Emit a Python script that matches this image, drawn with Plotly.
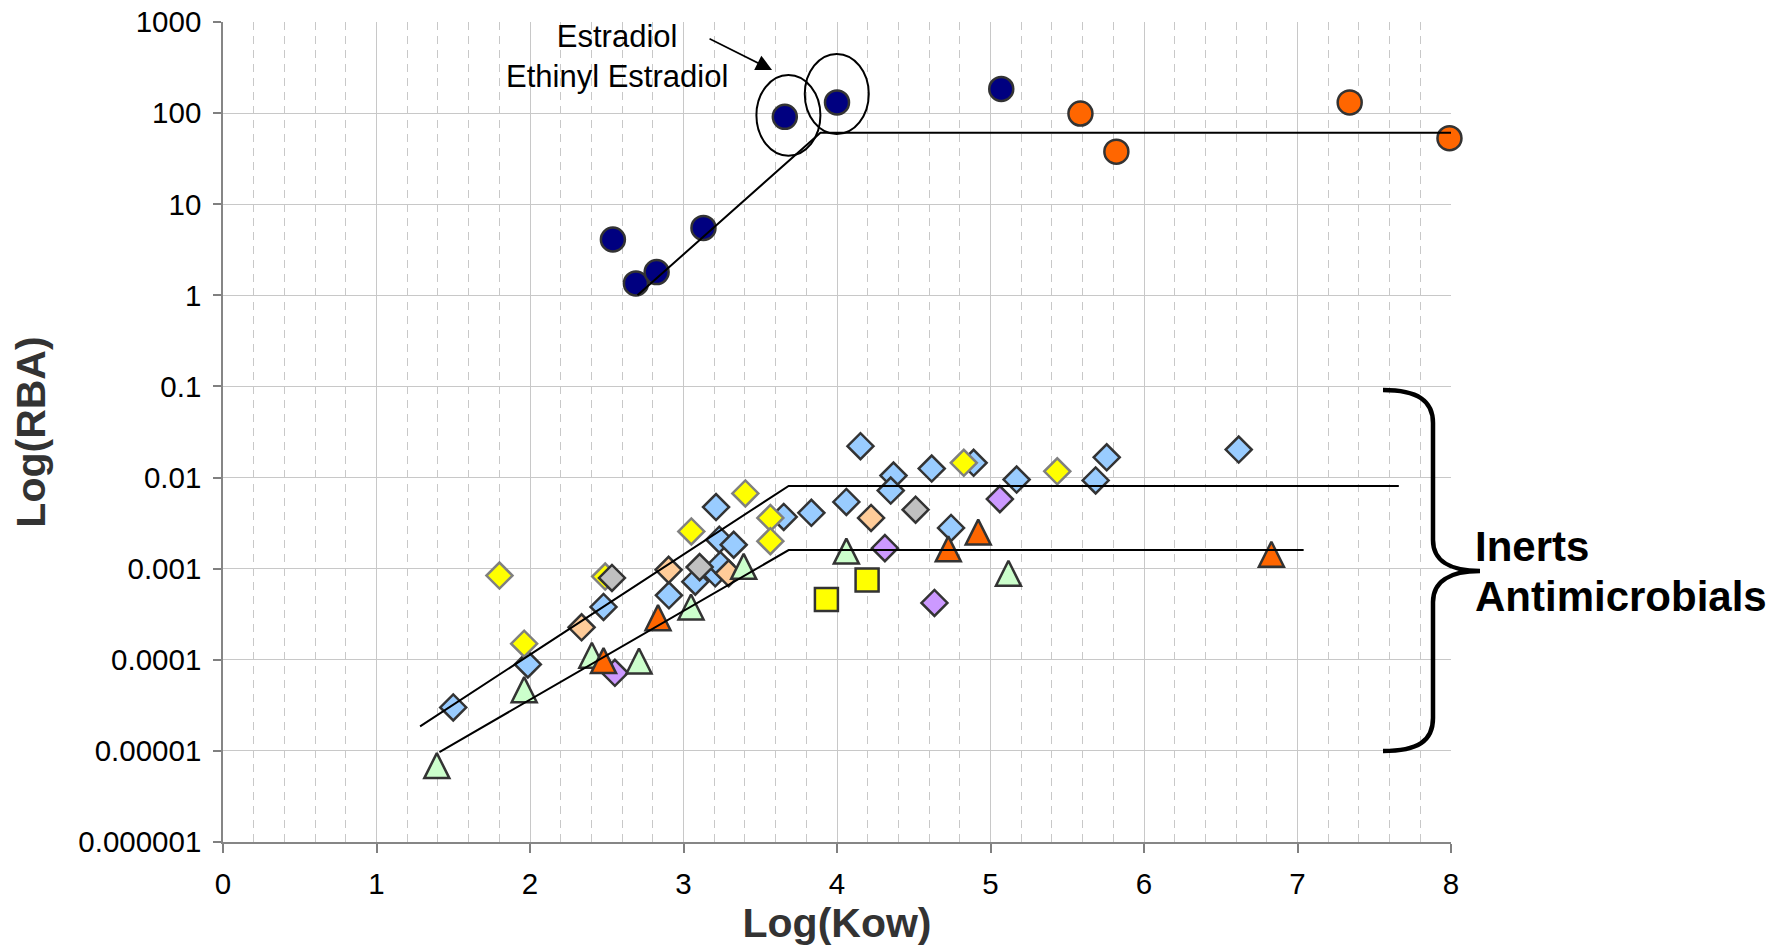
import plotly.graph_objects as go

# ---- data: Log(Kow) vs relative binding affinity ----
steroid_x = [2.54, 2.69, 2.825, 3.13, 3.66, 4.00, 5.07]
steroid_y = [4.1, 1.35, 1.8, 5.5, 91, 131, 184]

phenol_x = [5.586, 5.82, 7.34, 7.99]
phenol_y = [99, 37.7, 131, 53]

blue_x = [1.50, 1.986, 2.479, 2.905, 3.077, 3.207, 3.24, 3.212, 3.233, 3.327, 3.653,
          3.833, 4.061, 4.153, 4.368, 4.35, 4.617, 4.743, 4.89, 5.17, 5.685, 5.757, 6.617]
blue_y = [3.0e-5, 8.9e-5, 3.8e-4, 5.1e-4, 7.2e-4, 8.9e-4, 1.1e-3, 4.75e-3, 2.08e-3, 1.83e-3, 3.7e-3,
          4.1e-3, 5.4e-3, 2.21e-2, 1.05e-2, 7.2e-3, 1.256e-2, 2.8e-3, 1.45e-2, 9.5e-3, 9.3e-3, 1.67e-2, 2.03e-2]

yellow_x = [1.801, 1.962, 2.49, 3.051, 3.403, 3.566, 3.566, 4.826, 5.435]
yellow_y = [8.4e-4, 1.5e-4, 8.2e-4, 2.56e-3, 6.7e-3, 3.6e-3, 2.0e-3, 1.45e-2, 1.17e-2]

gray_x = [2.534, 3.105, 4.512]
gray_y = [7.9e-4, 1.04e-3, 4.44e-3]

peach_x = [2.336, 2.903, 3.294, 4.222]
peach_y = [2.27e-4, 9.7e-4, 8.9e-4, 3.6e-3]

purple_x = [2.553, 4.312, 4.635, 5.061]
purple_y = [7.2e-5, 1.68e-3, 4.2e-4, 5.8e-3]

green_x = [1.393, 1.962, 2.403, 2.71, 3.049, 3.392, 4.061, 5.117]
green_y = [6.9e-6, 4.7e-5, 1.12e-4, 9.7e-5, 3.8e-4, 1.06e-3, 1.56e-3, 8.9e-4]

otri_x = [2.479, 2.834, 4.725, 4.92, 6.83]
otri_y = [9.8e-5, 2.9e-4, 1.65e-3, 2.52e-3, 1.44e-3]

square_x = [3.931, 4.196]
square_y = [4.6e-4, 7.5e-4]

# piecewise trend lines
trend_top_x = [2.70, 3.892, 8.0]
trend_top_y = [1.0, 61, 61]
trend_mid_x = [1.284, 3.685, 7.66]
trend_mid_y = [1.86e-5, 0.0081, 0.0081]
trend_low_x = [1.41, 3.685, 7.04]
trend_low_y = [9.7e-6, 0.0016, 0.0016]

y_tickvals = [1e-6, 1e-5, 1e-4, 1e-3, 1e-2, 1e-1, 1, 10, 100, 1000]
y_ticktext = ["0.000001", "0.00001", "0.0001", "0.001", "0.01", "0.1", "1", "10", "100", "1000"]
x_tickvals = [0, 1, 2, 3, 4, 5, 6, 7, 8]

# ---- layout geometry (pixels) ----
W, H = 1774, 946
ML, MR, MT, MB = 223, 323, 22, 104
PW, PH = W - ML - MR, H - MT - MB


def px(xp):
    return (xp - ML) / PW


def py(yp):
    return (H - MB - yp) / PH


OUT = "#333333"
FONT = "Liberation Sans"

fig = go.Figure()


def add_markers(xs, ys, symbol, fill, size, line_color=OUT, extra=None):
    marker = dict(symbol=symbol, size=size, color=fill,
                  line=dict(color=line_color, width=2.5))
    if extra:
        marker.update(extra)
    fig.add_trace(go.Scatter(x=xs, y=ys, mode="markers", marker=marker, cliponaxis=False,
                             showlegend=False, hoverinfo="x+y"))


# upward triangle with equal width/height, centred on its point
TRI = dict(angle=180, standoff=12.5)

add_markers(blue_x, blue_y, "diamond", "#99CCFF", 20)
add_markers(yellow_x, yellow_y, "diamond", "#FFFF00", 20, line_color="#808080")
add_markers(gray_x, gray_y, "diamond", "#C0C0C0", 20)
add_markers(peach_x, peach_y, "diamond", "#FFCC99", 20)
add_markers(purple_x, purple_y, "diamond", "#CC99FF", 20)
add_markers(green_x, green_y, "arrow-down", "#CCFFCC", 25, extra=TRI)
add_markers(otri_x, otri_y, "arrow-down", "#FF6600", 25, extra=TRI)
add_markers(square_x, square_y, "square", "#FFFF00", 23)
add_markers(steroid_x, steroid_y, "circle", "#000080", 24)
add_markers(phenol_x, phenol_y, "circle", "#FF6600", 24)

for tx, ty in [(trend_top_x, trend_top_y), (trend_mid_x, trend_mid_y), (trend_low_x, trend_low_y)]:
    fig.add_trace(go.Scatter(x=tx, y=ty, mode="lines", line=dict(color="black", width=2),
                             showlegend=False, hoverinfo="skip"))

# ellipses around the two estradiol points
fig.add_shape(type="circle", xref="x", yref="y", x0=3.475, x1=3.892, y0=34.1, y1=262,
              line=dict(color="black", width=2))
fig.add_shape(type="circle", xref="x", yref="y", x0=3.79, x1=4.207, y0=59.0, y1=445,
              line=dict(color="black", width=2))

# curly brace grouping the inerts / antimicrobials
brace_pts = [
    ("M", [(1383, 390)]),
    ("C", [(1418, 390), (1433, 401), (1433, 423)]),
    ("L", [(1433, 540)]),
    ("C", [(1433, 560), (1449, 571), (1480, 571)]),
    ("C", [(1449, 571), (1433, 582), (1433, 602)]),
    ("L", [(1433, 718)]),
    ("C", [(1433, 741), (1418, 751), (1383, 751)]),
]
path = " ".join(cmd + " " + " ".join(f"{px(a):.5f},{py(b):.5f}" for a, b in pts)
                for cmd, pts in brace_pts)
fig.add_shape(type="path", xref="paper", yref="paper", path=path,
              line=dict(color="black", width=4.5))

annotations = [
    dict(text="Estradiol<br>Ethinyl Estradiol", xref="paper", yref="paper",
         x=px(616.5), y=py(56.5), xanchor="center", yanchor="middle", showarrow=False,
         font=dict(family=FONT, size=31, color="black")),
    dict(text="", xref="x", yref="y", x=3.577, y=2.473, ax=-64, ay=-32,
         showarrow=True, arrowhead=2, arrowsize=2, arrowwidth=1.6, arrowcolor="black"),
    dict(text="Inerts", xref="paper", yref="paper", x=px(1473), y=py(546),
         xanchor="left", yanchor="middle", showarrow=False,
         font=dict(family=FONT, size=42, color="black", weight="bold")),
    dict(text="Antimicrobials", xref="paper", yref="paper", x=px(1473), y=py(596),
         xanchor="left", yanchor="middle", showarrow=False,
         font=dict(family=FONT, size=42, color="black", weight="bold")),
]

fig.update_layout(
    width=W, height=H,
    margin=dict(l=ML, r=MR, t=MT, b=MB, pad=0, autoexpand=False),
    paper_bgcolor="white", plot_bgcolor="white",
    font=dict(family=FONT, color="black"),
    annotations=annotations,
    xaxis=dict(
        range=[0, 8], tickvals=x_tickvals, ticks="outside", ticklen=9, tickwidth=1.5,
        tickcolor="#808080", showline=True, linecolor="#868686", linewidth=2,
        showgrid=True, gridcolor="#C8C8C8", gridwidth=1, zeroline=False, automargin=False,
        tickfont=dict(family=FONT, size=29.5, color="black"), ticklabelstandoff=6,
        minor=dict(dtick=0.2, showgrid=True, gridcolor="#C8C8C8", gridwidth=1,
                   griddash="8px,6px"),
        title=dict(text="Log(Kow)", standoff=1,
                   font=dict(family=FONT, size=41, color="#333333", weight="bold")),
    ),
    yaxis=dict(
        type="log", range=[-6, 3], tickvals=y_tickvals, ticktext=y_ticktext,
        ticks="outside", ticklen=8, tickwidth=1.5, tickcolor="#808080",
        showline=True, linecolor="#868686", linewidth=1.5,
        showgrid=True, gridcolor="#C8C8C8", gridwidth=1, zeroline=False, automargin=False,
        tickfont=dict(family=FONT, size=29.5, color="black"), ticklabelstandoff=6,
        title=dict(text="Log(RBA)", standoff=20,
                   font=dict(family=FONT, size=41, color="#333333", weight="bold")),
    ),
)

fig.write_html("out.html")
